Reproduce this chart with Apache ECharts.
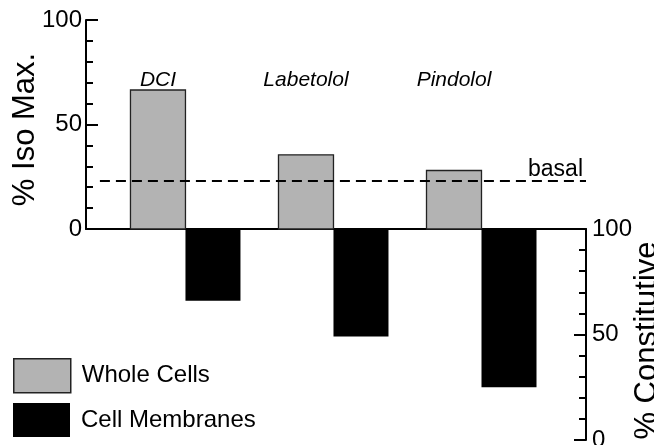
<!DOCTYPE html>
<html>
<head>
<meta charset="utf-8">
<script src="https://cdn.jsdelivr.net/npm/echarts@6/dist/echarts.min.js"></script>
<style>
html,body{margin:0;padding:0;background:#fff;}
#c{width:654px;height:445px;}
</style>
</head>
<body>
<div id="c"></div>
<script>
const categories = ['DCI', 'Labetolol', 'Pindolol'];
const wholeCells = [66.5, 35.5, 28];
const cellMembranes = [66, 49, 25];
const basalValue = 23;
const isoTicks = [0, 50, 100];
const constitutiveTicks = [0, 50, 100];
const legendNames = ['Whole Cells', 'Cell Membranes'];

const FONT = "'Liberation Sans', Arial, Helvetica, sans-serif";
const BAR_W = 55;
const X_MIN = -0.672, X_MAX = 2.706;
const LABEL_VALUE = 71;
const BASAL_X0 = -0.578;

const chart = echarts.init(document.getElementById('c'), null, {renderer: 'canvas'});

const grayData = categories.map((c, i) => [i, wholeCells[i]]);
const blackData = categories.map((c, i) => [i, cellMembranes[i]]);
const labelData = categories.map((c, i) => [i, LABEL_VALUE, c]);

function legendBox(name, top, itemStyle) {
  return {
    orient: 'vertical', left: 13, top: top, itemWidth: 57, itemHeight: 34, itemGap: 11,
    padding: 0, icon: 'rect', selectedMode: false,
    textStyle: {fontSize: 24, color: '#000', fontFamily: FONT, padding: [0, 0, 0, 6]},
    data: [{name: name, itemStyle: itemStyle}]
  };
}

const option = {
  animation: false,
  backgroundColor: '#fff',
  textStyle: {fontFamily: FONT},
  grid: [
    {left: 86, right: 68, top: 20, height: 209, outerBoundsMode: 'none', containLabel: false},
    {left: 86, right: 68, top: 229, height: 211, outerBoundsMode: 'none', containLabel: false}
  ],
  xAxis: [
    {gridIndex: 0, type: 'value', min: X_MIN, max: X_MAX,
     axisLine: {show: true, onZero: false, lineStyle: {color: '#000', width: 2}},
     axisTick: {show: false}, axisLabel: {show: false}, splitLine: {show: false}},
    {gridIndex: 1, type: 'value', min: X_MIN, max: X_MAX, show: false}
  ],
  yAxis: [
    {gridIndex: 0, type: 'value', position: 'left', min: isoTicks[0], max: isoTicks[isoTicks.length-1], interval: isoTicks[1]-isoTicks[0],
     name: '% Iso Max.', nameLocation: 'middle', nameRotate: 90, nameGap: 45, nameMoveOverlap: false,
     nameTextStyle: {fontSize: 31, color: '#000', fontFamily: FONT, padding: [0, 10, 0, 0]},
     axisLine: {show: true, onZero: false, lineStyle: {color: '#000', width: 2}},
     axisTick: {show: true, inside: true, length: 12, lineStyle: {color: '#000', width: 2}},
     minorTick: {show: true, splitNumber: 5, length: 7, lineStyle: {color: '#000', width: 2}},
     axisLabel: {fontSize: 24, color: '#000', margin: 4, fontFamily: FONT},
     splitLine: {show: false}},
    {gridIndex: 1, type: 'value', position: 'right', min: constitutiveTicks[0], max: constitutiveTicks[constitutiveTicks.length-1], interval: constitutiveTicks[1]-constitutiveTicks[0],
     name: '% Constitutive', nameLocation: 'middle', nameRotate: 90, nameGap: 46, nameMoveOverlap: false,
     nameTextStyle: {fontSize: 31, color: '#000', fontFamily: FONT, padding: [0, 12, 0, 0]},
     axisLine: {show: true, onZero: false, lineStyle: {color: '#000', width: 2}},
     axisTick: {show: true, inside: true, length: 12, lineStyle: {color: '#000', width: 2}},
     minorTick: {show: true, splitNumber: 5, length: 7, lineStyle: {color: '#000', width: 2}},
     axisLabel: {fontSize: 24, color: '#000', margin: 6, fontFamily: FONT},
     splitLine: {show: false}}
  ],
  legend: [
    legendBox(legendNames[0], 358, {color: '#b3b3b3', borderColor: '#222', borderWidth: 1.5}),
    legendBox(legendNames[1], 403, {color: '#000', borderColor: '#000', borderWidth: 0})
  ],
  series: [
    {
      name: legendNames[0], type: 'custom', xAxisIndex: 0, yAxisIndex: 0,
      encode: {x: 0, y: 1},
      itemStyle: {color: '#b3b3b3'},
      data: grayData,
      renderItem: function (params, api) {
        const x = api.value(0), v = api.value(1);
        const p0 = api.coord([x, 0]);
        const p1 = api.coord([x, v]);
        return {type: 'rect',
          shape: {x: p0[0] - BAR_W, y: p1[1], width: BAR_W, height: p0[1] - p1[1]},
          style: {fill: '#b3b3b3', stroke: '#222', lineWidth: 1.3}};
      },
      markLine: {
        silent: true, symbol: 'none', animation: false,
        lineStyle: {color: '#000', width: 2, type: [10, 6]},
        label: {show: true, position: 'insideEndTop', formatter: 'basal', fontSize: 23, color: '#000', fontFamily: FONT, distance: [3, 0]},
        data: [[{xAxis: BASAL_X0, yAxis: basalValue}, {xAxis: X_MAX, yAxis: basalValue}]]
      },
      z: 2
    },
    {
      name: legendNames[1], type: 'custom', xAxisIndex: 1, yAxisIndex: 1,
      encode: {x: 0, y: 1},
      itemStyle: {color: '#000'},
      data: blackData,
      renderItem: function (params, api) {
        const x = api.value(0), v = api.value(1);
        const top = api.coord([x, constitutiveTicks[constitutiveTicks.length-1]]);
        const bot = api.coord([x, v]);
        return {type: 'rect',
          shape: {x: top[0], y: top[1], width: BAR_W, height: bot[1] - top[1]},
          style: {fill: '#000'}};
      },
      z: 2
    },
    {
      name: 'labels', type: 'custom', xAxisIndex: 0, yAxisIndex: 0,
      encode: {x: 0, y: 1},
      data: labelData,
      silent: true,
      renderItem: function (params, api) {
        const p = api.coord([api.value(0), api.value(1)]);
        return {type: 'text',
          style: {x: p[0] - BAR_W / 2, y: p[1], text: labelData[params.dataIndex][2],
            fontSize: 21, fontStyle: 'italic', fontFamily: FONT, fill: '#000',
            align: 'center', verticalAlign: 'middle'}};
      }
    }
  ]
};
chart.setOption(option);
</script>
</body>
</html>
